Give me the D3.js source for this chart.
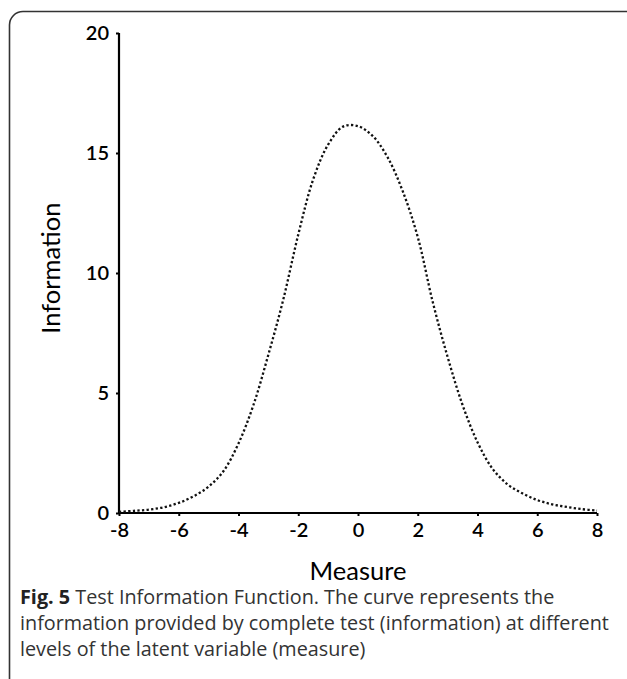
<!DOCTYPE html>
<html>
<head>
<meta charset="utf-8">
<script src="https://cdn.jsdelivr.net/npm/d3@7"></script>
<style>
  html, body { margin: 0; padding: 0; background: #fff; }
  svg { display: block; }
</style>
</head>
<body>
<svg id="chart" width="627" height="679"></svg>
<script>
// ---- data ----
const measure = [-8, -7.5, -7, -6.5, -6, -5.5, -5, -4.5, -4, -3.5, -3, -2.5, -2, -1.5, -1, -0.5, 0, 0.5, 1, 1.5, 2, 2.5, 3, 3.5, 4, 4.5, 5, 5.5, 6, 6.5, 7, 7.5, 8];
const information = [0.05, 0.09, 0.14, 0.24, 0.42, 0.7, 1.1, 1.75, 2.9, 4.5, 6.6, 8.9, 11.6, 13.9, 15.35, 16.1, 16.12, 15.7, 14.8, 13.4, 11.5, 8.8, 6.5, 4.5, 2.95, 1.85, 1.2, 0.82, 0.54, 0.36, 0.25, 0.16, 0.1];
const xTicks = [-8, -6, -4, -2, 0, 2, 4, 6, 8];
const yTicks = [0, 5, 10, 15, 20];
const xTitle = "Measure";
const yTitle = "Information";
const captionBold = "Fig. 5";
const captionLines = [
  " Test Information Function. The curve represents the",
  "information provided by complete test (information) at different",
  "levels of the latent variable (measure)"
];

const svg = d3.select("#chart");

// frame
svg.append("path")
  .attr("d", "M9.5,679 V25 A13.5,13.5 0 0 1 23,11.5 H627")
  .attr("fill", "none").attr("stroke", "#333").attr("stroke-width", 1.6);

const x = d3.scaleLinear().domain([-8, 8]).range([119, 597]);
const y = d3.scaleLinear().domain([0, 20]).range([513, 33]);

const tickFont = "Lato, 'Open Sans', sans-serif";

// y axis
const gy = svg.append("g").attr("transform", `translate(${x(-8)},0)`)
  .call(d3.axisLeft(y).tickValues(yTicks).tickSize(3).tickPadding(7).tickFormat(d3.format("d")));
gy.select(".domain").attr("stroke", "#000").attr("stroke-width", 2.2).attr("d", `M0,${y(20)}V${y(0)}`);
gy.selectAll(".tick line").attr("stroke", "#000").attr("stroke-width", 2);
gy.selectAll(".tick text").attr("font-family", tickFont).attr("font-size", 20).attr("font-weight", 600).attr("fill", "#000");

// x axis
const gx = svg.append("g").attr("transform", `translate(0,${y(0)})`)
  .call(d3.axisBottom(x).tickValues(xTicks).tickSize(3).tickPadding(7).tickFormat(d3.format("d")));
gx.select(".domain").attr("stroke", "#000").attr("stroke-width", 2.2).attr("d", `M${x(-8)},0H${x(8)}`);
gx.selectAll(".tick line").attr("stroke", "#000").attr("stroke-width", 2);
gx.selectAll(".tick text").attr("font-family", tickFont).attr("font-size", 20).attr("font-weight", 600).attr("fill", "#000")
  .text(d => d < 0 ? "-" + Math.abs(d) : d);

// axis titles
svg.append("text").attr("x", x(0)).attr("y", 580).attr("text-anchor", "middle")
  .attr("font-family", tickFont).attr("font-size", 25.5).attr("fill", "#000").text(xTitle);
svg.append("text").attr("transform", `translate(60,${y(10.2)}) rotate(-90)`).attr("text-anchor", "middle")
  .attr("font-family", tickFont).attr("font-size", 25.5).attr("fill", "#000").text(yTitle);

// curve
const pts = measure.map((m, i) => [m, information[i]]);
svg.append("path").datum(pts)
  .attr("fill", "none").attr("stroke", "#111").attr("stroke-width", 2.3)
  .attr("stroke-dasharray", "2.3,2.3")
  .attr("d", d3.line().x(d => x(d[0])).y(d => y(d[1])).curve(d3.curveCatmullRom.alpha(0.5)));

// caption
const capFont = "'Open Sans', 'Noto Sans', sans-serif";
const capSize = 19.8;
const baselines = [604, 630, 656];
const t0 = svg.append("text").attr("x", 20).attr("y", baselines[0])
  .attr("font-family", capFont).attr("font-size", capSize).attr("fill", "#333");
t0.append("tspan").attr("font-weight", "bold").attr("fill", "#222").text(captionBold);
t0.append("tspan").text(captionLines[0]);
for (let i = 1; i < captionLines.length; i++) {
  svg.append("text").attr("x", 20).attr("y", baselines[i])
    .attr("font-family", capFont).attr("font-size", capSize).attr("fill", "#333").text(captionLines[i]);
}
</script>
</body>
</html>
